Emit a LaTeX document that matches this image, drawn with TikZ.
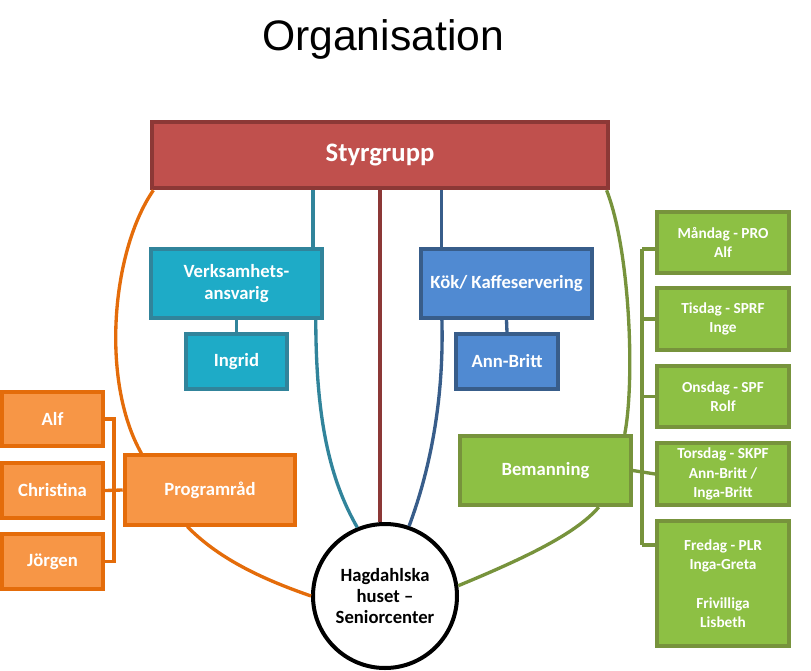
\documentclass[tikz,border=0pt]{standalone}
\usepackage{fontspec}
\setmainfont{Carlito}
\newfontfamily\titlefont{Liberation Sans}
\usepackage{tikz}
\usetikzlibrary{calc}
\usepackage{xcolor}
\definecolor{styfill}{RGB}{192,80,77}
\definecolor{styline}{RGB}{140,56,54}
\definecolor{verfill}{RGB}{30,171,199}
\definecolor{verline}{RGB}{49,132,155}
\definecolor{kokfill}{RGB}{80,138,210}
\definecolor{kokline}{RGB}{56,93,138}
\definecolor{progfill}{RGB}{247,150,70}
\definecolor{progline}{RGB}{228,108,10}
\definecolor{bemfill}{RGB}{141,192,68}
\definecolor{bemline}{RGB}{119,147,60}

\begin{document}
\begin{tikzpicture}[x=0.75pt, y=-0.75pt,
  box/.style={draw, line width=2.9pt, text=white, align=center, inner sep=0pt,
    font=\bfseries\fontsize{14}{17}\selectfont},
  stybox/.style={box, fill=styfill, draw=styline, minimum width=342pt, minimum height=50pt,
    font=\bfseries\fontsize{20}{24}\selectfont},
  verbox/.style={box, fill=verfill, draw=verline},
  kokbox/.style={box, fill=kokfill, draw=kokline},
  progbox/.style={box, fill=progfill, draw=progline},
  bembox/.style={box, fill=bemfill, draw=bemline},
  bigbox/.style={minimum width=128pt, minimum height=52pt},
  smallbox/.style={minimum width=76pt, minimum height=41pt},
  daybox/.style={bembox, minimum width=99pt, minimum height=46pt,
    font=\bfseries\fontsize{11.5}{14.5}\selectfont},
  conn/.style={line width=2.5pt}]
  \useasboundingbox (0,0) rectangle (811,671);
  % Title
  \node[font=\titlefont\fontsize{32}{38}\selectfont] (title) at (383,39) {Organisation};
  % Top
  \node[stybox] (sty) at (380,155) {Styrgrupp};
  \node[verbox, bigbox] (ver) at (236.5,283.5) {Verksamhets-\\ansvarig};
  \node[verbox, smallbox] (ing) at (236.5,361.5) {Ingrid};
  \node[kokbox, bigbox] (kok) at (506.5,283.5) {Kök/ Kaffeservering};
  \node[kokbox, smallbox] (ann) at (507,361.5) {Ann-Britt};
  % Left side
  \node[progbox, bigbox] (prog) at (210,490) {Programråd};
  \node[progbox, smallbox] (alf) at (52.5,419) {Alf};
  \node[progbox, smallbox] (chr) at (52.5,490.5) {Christina};
  \node[progbox, smallbox] (jor) at (52.5,561.5) {Jörgen};
  % Right side
  \node[bembox, bigbox] (bem) at (545.5,470.5) {Bemanning};
  \node[daybox] (man) at (723,242.5) {Måndag - PRO\\Alf};
  \node[daybox] (tis) at (723,319) {Tisdag - SPRF\\Inge};
  \node[daybox] (ons) at (723,396.5) {Onsdag - SPF\\Rolf};
  \node[daybox] (tor) at (723,474) {Torsdag - SKPF\\Ann-Britt /\\Inga-Britt};
  \node[daybox, minimum height=94pt] (fre) at (723,583.5)
    {Fredag - PLR\\Inga-Greta\\[14.5pt]Frivilliga\\Lisbeth};
  % Centre
  \node[circle, draw, line width=3pt, fill=white, minimum size=108pt, inner sep=0pt,
    align=center, font=\bfseries\fontsize{14}{15.75}\selectfont] (hub) at (385,596)
    {Hagdahlska\\huset --\\Seniorcenter};

  % Lines from Styrgrupp
  \draw[conn, styline] (sty.south) -- (sty.south |- hub.north);
  \draw[conn, verline] ([xshift=-8pt]ver.north east) -- ([xshift=-8pt]ver.north east |- sty.south);
  \draw[conn, verline] ([xshift=-6pt]ver.south east) .. controls (316,420) and (330,480) .. (hub.112);
  \draw[conn, kokline] ([xshift=16.5pt]kok.north west) -- ([xshift=16.5pt]kok.north west |- sty.south);
  \draw[conn, kokline] ([xshift=17pt]kok.south west) .. controls (444,400) and (430,470) .. (hub.71);
  \draw[conn, verline] (ver.south) -- (ing.north);
  \draw[conn, kokline] (kok.south) -- (ann.north);
  \draw[conn, progline] ([xshift=2.5pt]sty.south west) .. controls (112,250) and (100,380) .. ([xshift=14pt]prog.north west);
  \draw[conn, progline] ([xshift=-17pt]prog.south) .. controls (220,560) and (265,580) .. (hub.west);
  \draw[conn, bemline] ([xshift=-2.5pt]sty.south east) .. controls (630,250) and (635,380) .. ([xshift=-6pt]bem.north east);
  \draw[conn, bemline] ([xshift=-25.5pt]bem.south east) .. controls (575,535) and (520,560) .. (hub.8);
  % Brackets
  \coordinate (lbus) at (114,0);
  \draw[conn, progline] (alf.east) -- (alf.east -| lbus) -- (jor.east -| lbus) -- (jor.east);
  \draw[conn, progline] (chr.east) -- (prog.west);
  \coordinate (rtop) at (642,249);
  \coordinate (rbot) at (642,545);
  \draw[conn, bemline] (rtop) -- (rbot);
  \draw[conn, bemline] (rtop) -- (man.west |- rtop);
  \draw[conn, bemline] (tis.west -| rtop) -- (tis.west);
  \draw[conn, bemline] (ons.west -| rtop) -- (ons.west);
  \draw[conn, bemline] (bem.east) -- (tor.west);
  \draw[conn, bemline] (rbot) -- (fre.west |- rbot);
\end{tikzpicture}
\end{document}
